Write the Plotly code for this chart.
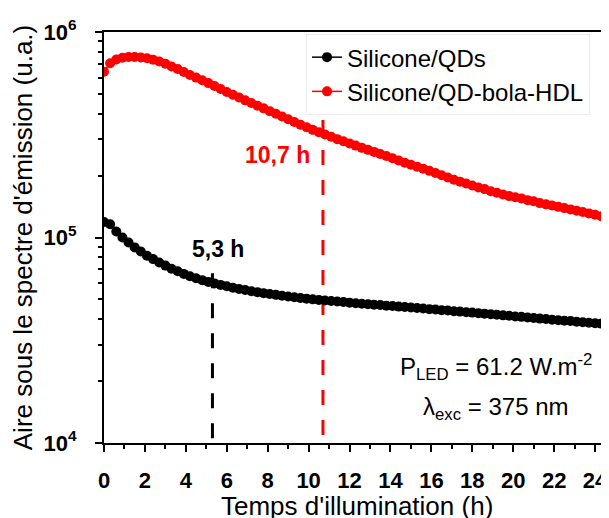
import plotly.graph_objects as go

# ---------------- data ----------------
time_h = [0.0, 0.3, 0.6, 0.9, 1.2, 1.5, 1.8, 2.1, 2.4, 2.7, 3.0, 3.3, 3.6, 3.9, 4.2, 4.5, 4.8,
          5.1, 5.4, 5.7, 6.0, 6.3, 6.6, 6.9, 7.2, 7.5, 7.8, 8.1, 8.4, 8.7, 9.0, 9.3, 9.6, 9.9,
          10.2, 10.5, 10.8, 11.1, 11.4, 11.7, 12.0, 12.3, 12.6, 12.9, 13.2, 13.5, 13.8, 14.1,
          14.4, 14.7, 15.0, 15.3, 15.6, 15.9, 16.2, 16.5, 16.8, 17.1, 17.4, 17.7, 18.0, 18.3,
          18.6, 18.9, 19.2, 19.5, 19.8, 20.1, 20.4, 20.7, 21.0, 21.3, 21.6, 21.9, 22.2, 22.5,
          22.8, 23.1, 23.4, 23.7, 24.0, 24.3, 24.6]

silicone_qds = [119000, 116000, 107000, 100000, 94500, 89500, 85500, 81500, 78500, 75500,
                73000, 70500, 68500, 66500, 64800, 63300, 62000, 60800, 59800, 58800, 57900,
                57000, 56200, 55500, 54800, 54200, 53600, 53100, 52600, 52100, 51600, 51200,
                50800, 50400, 50000, 49700, 49400, 49100, 48800, 48500, 48200, 47900, 47600,
                47400, 47100, 46900, 46600, 46400, 46100, 45900, 45600, 45400, 45100, 44800,
                44600, 44300, 44100, 43800, 43600, 43300, 43100, 42800, 42600, 42300, 42100,
                41800, 41600, 41300, 41100, 40800, 40600, 40300, 40100, 39800, 39600, 39400,
                39200, 38900, 38700, 38500, 38300, 38100, 37900]

silicone_bola_hdl = [640000, 705000, 735000, 750000, 755000, 755000, 752000, 745000, 733000,
                     718000, 700000, 680000, 660000, 639000, 618000, 600000, 582000, 564000,
                     546000, 528000, 511000, 495000, 480000, 465000, 451000, 438000, 425000,
                     412000, 400000, 388000, 376000, 365000, 354000, 344000, 334000, 325000,
                     317000, 309000, 301000, 294000, 287000, 280000, 273000, 267000, 261000,
                     255000, 249000, 243000, 237000, 231000, 226000, 221000, 216000, 211000,
                     206000, 201000, 196000, 191000, 187000, 183000, 179000, 175000, 172000,
                     168000, 165000, 162000, 159000, 157000, 155000, 152000, 150000, 147000,
                     145000, 143000, 141000, 139000, 137000, 135000, 133000, 131000, 129000,
                     127000, 125000]

# half-life markers (drawn from the top downward)
half_life_qds_x = [5.3, 5.3]
half_life_qds_y = [67000, 10000]
half_life_hdl_x = [10.7, 10.7]
half_life_hdl_y = [373000, 10000]

x_tickvals = [0, 2, 4, 6, 8, 10, 12, 14, 16, 18, 20, 22, 24]
y_tickvals = [1e4, 1e5, 1e6]
y_ticktext = ["10<sup>4</sup>", "10<sup>5</sup>", "10<sup>6</sup>"]
y_minor = [k * 10 ** e for e in (4, 5) for k in range(2, 10)]
x_minor = [1, 3, 5, 7, 9, 11, 13, 15, 17, 19, 21, 23]

FONT = "Liberation Sans, Arial, sans-serif"

fig = go.Figure()
fig.add_trace(go.Scatter(x=half_life_qds_x, y=half_life_qds_y, mode="lines",
                         line=dict(color="black", width=3, dash="15px,15px"),
                         showlegend=False, hoverinfo="skip"))
fig.add_trace(go.Scatter(x=half_life_hdl_x, y=half_life_hdl_y, mode="lines",
                         line=dict(color="#ff0000", width=3, dash="15px,15px"),
                         showlegend=False, hoverinfo="skip"))
fig.add_trace(go.Scatter(x=time_h, y=silicone_qds, mode="lines+markers", name="Silicone/QDs",
                         line=dict(color="black", width=1.5),
                         marker=dict(color="black", size=10)))
fig.add_trace(go.Scatter(x=time_h, y=silicone_bola_hdl, mode="lines+markers",
                         name="Silicone/QD-bola-HDL",
                         line=dict(color="#ff0000", width=1.5),
                         marker=dict(color="#ff0000", size=10)))

# page body has an 8px margin -> figure is 8px smaller and shifted
fig.update_layout(
    width=601, height=510,
    margin=dict(l=96, r=0, t=24, b=75, autoexpand=False),
    plot_bgcolor="white", paper_bgcolor="white",
    font=dict(family=FONT, color="black"),
    showlegend=True,
    legend=dict(x=0.40, y=0.995, xanchor="left", yanchor="top",
                bgcolor="white", bordercolor="#ececec", borderwidth=1,
                font=dict(size=24, family=FONT, color="black"),
                tracegroupgap=0, itemwidth=30),
)

fig.update_xaxes(
    range=[0, 24.68], tickvals=x_tickvals, automargin=False,
    showline=True, linecolor="black", linewidth=2, mirror=True,
    ticks="outside", ticklen=7, tickwidth=2, tickcolor="black",
    minor=dict(tickvals=x_minor, ticks="outside", ticklen=4, tickwidth=2, tickcolor="black"),
    tickfont=dict(size=22, family=FONT, weight="bold", color="black"),
    ticklabelstandoff=10,
    showgrid=False, zeroline=False,
)
fig.update_yaxes(
    type="log", range=[4, 6], tickvals=y_tickvals, ticktext=y_ticktext, automargin=False,
    showline=True, linecolor="black", linewidth=2, mirror=False,
    ticks="outside", ticklen=7, tickwidth=2, tickcolor="black",
    minor=dict(tickvals=y_minor, ticks="outside", ticklen=4, tickwidth=2, tickcolor="black"),
    tickfont=dict(size=22, family=FONT, weight="bold", color="black"),
    ticklabelstandoff=14,
    showgrid=False, zeroline=False,
    title=dict(text="Aire sous le spectre d'émission (u.a.)",
               font=dict(size=26, family=FONT, color="black"), standoff=4),
)

def py(pix):
    return (443 - pix) / 411

# x-axis title placed as a paper annotation below the tick labels
fig.add_annotation(x=0.5, y=py(506), xref="paper", yref="paper", showarrow=False,
                   xanchor="center", yanchor="middle", text="Temps d'illumination (h)",
                   font=dict(size=26, family=FONT, color="black"))

common = dict(xref="x", yref="paper", showarrow=False, xanchor="center", yanchor="middle")
fig.add_annotation(x=8.46, y=py(155), text="<b>10,7 h</b>",
                   font=dict(size=23, family=FONT, color="#ff0000"), **common)
fig.add_annotation(x=5.57, y=py(249), text="<b>5,3 h</b>",
                   font=dict(size=23, family=FONT, color="black"), **common)
fig.add_annotation(x=19.16, y=py(367), text="P<sub>LED</sub> = 61.2 W.m<sup>-2</sup>",
                   font=dict(size=24, family=FONT, color="black"), **common)
fig.add_annotation(x=19.16, y=py(408), text="λ<sub>exc</sub> = 375 nm",
                   font=dict(size=24, family=FONT, color="black"), **common)

fig.write_html("out.html")
